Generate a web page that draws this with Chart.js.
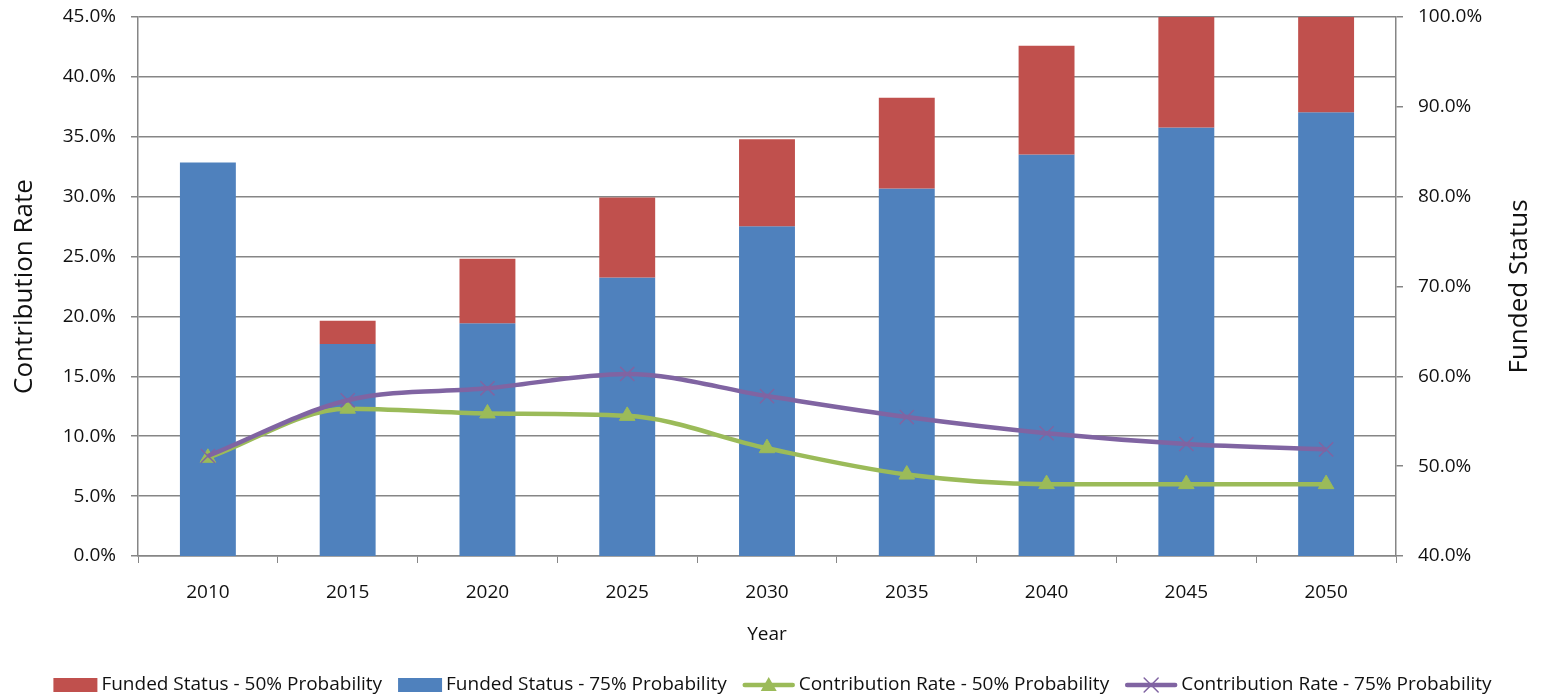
<!DOCTYPE html>
<html>
<head>
<meta charset="utf-8">
<title>Funded Status and Contribution Rate</title>
<script src="https://cdn.jsdelivr.net/npm/chart.js@4.4.1/dist/chart.umd.min.js"></script>
<style>
    html, body { margin: 0; padding: 0; background: #fff; }
    #wrap { width: 1545px; height: 699px; position: relative; }
</style>
</head>
<body>
<div id="wrap"><canvas id="fundingChart"></canvas></div>
<script>
// values
const years = ['2010', '2015', '2020', '2025', '2030', '2035', '2040', '2045', '2050'];
const fundedStatus75 = [83.8, 63.6, 65.9, 71.0, 76.7, 80.9, 84.7, 87.7, 89.4];
const fundedStatus50 = [83.8, 66.2, 73.1, 79.9, 86.4, 91.0, 96.8, 101.8, 103.5];
const contribRate50 = [8.2, 12.3, 11.9, 11.7, 9.0, 6.8, 6.0, 6.0, 6.0];
const contribRate75 = [8.35, 13.0, 14.0, 15.2, 13.35, 11.6, 10.25, 9.35, 8.9];
const rateAxis = [0, 45, 5];      // min, max, step
const fundedAxis = [40, 100, 10];

const FONT = '"Open Sans", "DejaVu Sans", sans-serif';
const GRID = '#868686';
const TEXT = '#111111';

const colors = {
    red: '#C0504D',
    blue: '#4F81BD',
    green: '#9BBB59',
    purple: '#8064A2'
};

const pct = v => Number(v).toFixed(1) + '%';

// keep the plot box where the original had it
function fixWidth(w) {
    return scale => {
        scale.width = w;
        scale.paddingTop = 0;
        scale.paddingBottom = 0;
    };
}

// legend + right-hand axis title, drawn the way the spreadsheet did it
const decorations = {
    id: 'decorations',
    afterDraw(chart) {
        const ctx = chart.ctx;
        const area = chart.chartArea;

        // "Funded Status" reads bottom to top
        ctx.save();
        ctx.fillStyle = TEXT;
        ctx.font = '26px ' + FONT;
        ctx.textAlign = 'center';
        ctx.textBaseline = 'middle';
        ctx.translate(1520, (area.top + area.bottom) / 2);
        ctx.rotate(-Math.PI / 2);
        ctx.fillText('Funded Status', 0, 0);
        ctx.restore();

        const items = [
            { text: 'Funded Status - 50% Probability', kind: 'box', color: colors.red },
            { text: 'Funded Status - 75% Probability', kind: 'box', color: colors.blue },
            { text: 'Contribution Rate - 50% Probability', kind: 'triangle', color: colors.green },
            { text: 'Contribution Rate - 75% Probability', kind: 'cross', color: colors.purple }
        ];
        const markW = { box: 44, triangle: 52, cross: 52 };
        const gap = 4, itemGap = 16;

        ctx.save();
        ctx.font = '19px ' + FONT;
        let total = 0;
        items.forEach((it, i) => {
            it.w = ctx.measureText(it.text).width;
            total += markW[it.kind] + gap + it.w + (i < items.length - 1 ? itemGap : 0);
        });
        let x = (chart.width - total) / 2;
        const y = 685;
        ctx.textBaseline = 'middle';
        ctx.textAlign = 'left';
        items.forEach(it => {
            const w = markW[it.kind];
            ctx.fillStyle = it.color;
            ctx.strokeStyle = it.color;
            if (it.kind === 'box') {
                ctx.fillRect(x, y - 7, w, 14);
            } else {
                ctx.lineWidth = 4.5;
                ctx.lineCap = 'round';
                ctx.beginPath();
                ctx.moveTo(x + 2, y);
                ctx.lineTo(x + w - 2, y);
                ctx.stroke();
                const cx = x + w / 2;
                if (it.kind === 'triangle') {
                    ctx.beginPath();
                    ctx.moveTo(cx, y - 8);
                    ctx.lineTo(cx + 8, y + 6);
                    ctx.lineTo(cx - 8, y + 6);
                    ctx.closePath();
                    ctx.fill();
                } else {
                    ctx.lineWidth = 1.5;
                    ctx.beginPath();
                    ctx.moveTo(cx - 7, y - 7);
                    ctx.lineTo(cx + 7, y + 7);
                    ctx.moveTo(cx + 7, y - 7);
                    ctx.lineTo(cx - 7, y + 7);
                    ctx.stroke();
                }
            }
            x += w + gap;
            ctx.fillStyle = TEXT;
            ctx.fillText(it.text, x, y);
            x += it.w + itemGap;
        });
        ctx.restore();
    }
};

function createChart() {
    const ctx = document.getElementById('fundingChart');

    new Chart(ctx, {
        type: 'bar',
        data: {
            labels: years,
            datasets: [
                {
                    type: 'line',
                    label: 'Contribution Rate - 75% Probability',
                    data: contribRate75,
                    yAxisID: 'y',
                    order: 0,
                    borderColor: colors.purple,
                    backgroundColor: colors.purple,
                    borderWidth: 4.5,
                    cubicInterpolationMode: 'monotone',
                    pointStyle: 'crossRot',
                    pointRadius: 10,
                    pointBorderWidth: 1.5,
                    pointBorderColor: colors.purple
                },
                {
                    type: 'line',
                    label: 'Contribution Rate - 50% Probability',
                    data: contribRate50,
                    yAxisID: 'y',
                    order: 1,
                    borderColor: colors.green,
                    backgroundColor: colors.green,
                    borderWidth: 4.5,
                    cubicInterpolationMode: 'monotone',
                    pointStyle: 'triangle',
                    pointRadius: 9,
                    pointBorderWidth: 1,
                    pointBackgroundColor: colors.green,
                    pointBorderColor: colors.green
                },
                {
                    label: 'Funded Status - 50% Probability',
                    data: years.map((_, i) => [fundedStatus75[i], fundedStatus50[i]]),
                    yAxisID: 'y1',
                    order: 2,
                    grouped: false,
                    backgroundColor: colors.red,
                    borderWidth: 0,
                    barPercentage: 0.4,
                    categoryPercentage: 1.0
                },
                {
                    label: 'Funded Status - 75% Probability',
                    data: fundedStatus75,
                    yAxisID: 'y1',
                    order: 3,
                    grouped: false,
                    backgroundColor: colors.blue,
                    borderWidth: 0,
                    barPercentage: 0.4,
                    categoryPercentage: 1.0
                }
            ]
        },
        options: {
            responsive: true,
            maintainAspectRatio: false,
            animation: false,
            layout: {
                padding: { top: 17, right: 0, bottom: 48, left: 0 }
            },
            plugins: {
                legend: { display: false },
                tooltip: { enabled: false }
            },
            scales: {
                x: {
                    afterFit(scale) { scale.height = 95; },
                    grid: {
                        offset: true,
                        drawOnChartArea: false,
                        color: GRID,
                        tickLength: 7
                    },
                    border: { color: GRID, width: 1.5 },
                    ticks: {
                        color: TEXT,
                        padding: 18,
                        maxRotation: 0,
                        font: { family: FONT, size: 19 }
                    },
                    title: {
                        display: true,
                        text: 'Year',
                        color: TEXT,
                        padding: { top: 0, bottom: 5 },
                        font: { family: FONT, size: 19 }
                    }
                },
                y: {
                    position: 'left',
                    afterFit: fixWidth(138),
                    min: rateAxis[0],
                    max: rateAxis[1],
                    grid: { color: GRID, lineWidth: 1.5, tickLength: 7 },
                    border: { color: GRID, width: 1.5 },
                    ticks: {
                        stepSize: rateAxis[2],
                        color: TEXT,
                        padding: 15,
                        font: { family: FONT, size: 19 },
                        callback: value => pct(value)
                    },
                    title: {
                        display: true,
                        text: 'Contribution Rate',
                        color: TEXT,
                        padding: { top: 9, bottom: 0 },
                        font: { family: FONT, size: 26 }
                    }
                },
                y1: {
                    position: 'right',
                    afterFit: fixWidth(149),
                    min: fundedAxis[0],
                    max: fundedAxis[1],
                    grid: { drawOnChartArea: false, color: GRID, lineWidth: 1.5, tickLength: 7 },
                    border: { color: GRID, width: 1.5 },
                    ticks: {
                        stepSize: fundedAxis[2],
                        color: TEXT,
                        padding: 15,
                        font: { family: FONT, size: 19 },
                        callback: value => pct(value)
                    }
                }
            }
        },
        plugins: [decorations]
    });
}

if (document.readyState === 'loading') {
    document.addEventListener('DOMContentLoaded', createChart);
} else {
    createChart();
}
</script>
</body>
</html>
